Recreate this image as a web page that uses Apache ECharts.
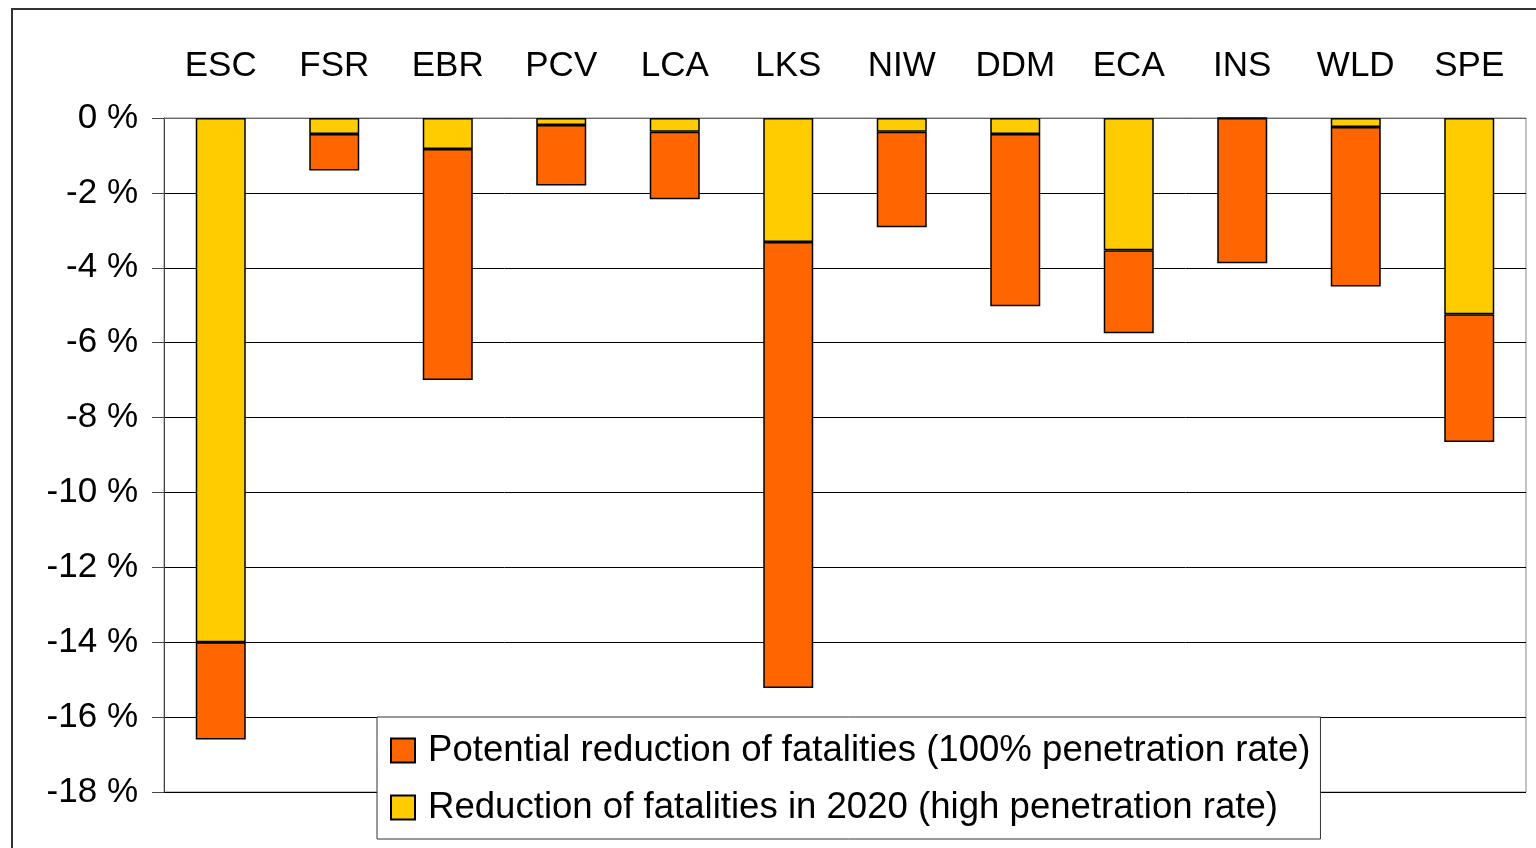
<!DOCTYPE html>
<html>
<head>
<meta charset="utf-8">
<script src="https://cdn.jsdelivr.net/npm/echarts@6/dist/echarts.min.js"></script>
<style>
  html, body { margin: 0; padding: 0; background: #fff; }
  #chart { width: 1536px; height: 848px; }
</style>
</head>
<body>
<div id="chart"></div>
<script>
// categories along the top axis
const categories = ['ESC', 'FSR', 'EBR', 'PCV', 'LCA', 'LKS', 'NIW', 'DDM', 'ECA', 'INS', 'WLD', 'SPE'];
// reduction of fatalities in 2020 (high penetration rate), %
const reduction2020 = [-14.0, -0.43, -0.83, -0.19, -0.37, -3.31, -0.37, -0.43, -3.53, 0, -0.24, -5.24];
// potential reduction of fatalities (100% penetration rate), %
const potential = [-16.6, -1.4, -7.0, -1.8, -2.17, -15.22, -2.92, -5.03, -5.75, -3.88, -4.5, -8.65];
// remainder drawn below the yellow part
const potentialRest = potential.map((v, i) => +(v - reduction2020[i]).toFixed(2));

const font = 'Liberation Sans, Arial, sans-serif';
const chart = echarts.init(document.getElementById('chart'));

chart.setOption({
  animation: false,
  graphic: [{
    type: 'rect',
    shape: { x: 12, y: 9, width: 1600, height: 900 },
    style: { fill: 'none', stroke: '#333', lineWidth: 2 },
    z: -1
  }],
  grid: {
    left: 164, top: 118, right: 10, bottom: 56,
    show: true, borderColor: '#888', borderWidth: 1
  },
  legend: {
    orient: 'vertical',
    left: 377, top: 717,
    padding: [15, 10, 13, 13],
    backgroundColor: '#fff',
    borderColor: '#333', borderWidth: 1,
    itemWidth: 24, itemHeight: 24, itemGap: 20,
    icon: 'rect',
    data: ['Potential reduction of fatalities (100% penetration rate)', 'Reduction of fatalities in 2020 (high penetration rate)'],
    textStyle: { fontFamily: font, fontSize: 36.6, color: '#000', padding: [0, 0, 0, 8] },
    z: 10
  },
  xAxis: {
    type: 'category',
    position: 'top',
    data: categories,
    axisLine: { lineStyle: { color: '#666', width: 1 } },
    axisTick: { inside: true, length: 9, lineStyle: { color: '#555' } },
    axisLabel: { fontFamily: font, fontSize: 35, color: '#000', margin: 34 }
  },
  yAxis: {
    type: 'value',
    min: -18, max: 0, interval: 2,
    axisLine: { show: true, lineStyle: { color: '#444', width: 1 } },
    axisTick: { show: true, length: 12, lineStyle: { color: '#444' } },
    axisLabel: { fontFamily: font, fontSize: 35, color: '#000', margin: 26, formatter: v => v + ' %' },
    splitLine: { lineStyle: { color: '#000', width: 1 } }
  },
  series: [
    {
      name: 'Reduction of fatalities in 2020 (high penetration rate)',
      type: 'bar',
      stack: 'total',
      barWidth: 50,
      data: reduction2020,
      itemStyle: { color: '#FFCC00', borderColor: '#000', borderWidth: 1.5 }
    },
    {
      name: 'Potential reduction of fatalities (100% penetration rate)',
      type: 'bar',
      stack: 'total',
      barWidth: 50,
      data: potentialRest,
      itemStyle: { color: '#FF6600', borderColor: '#000', borderWidth: 1.5 }
    }
  ]
});
</script>
</body>
</html>
